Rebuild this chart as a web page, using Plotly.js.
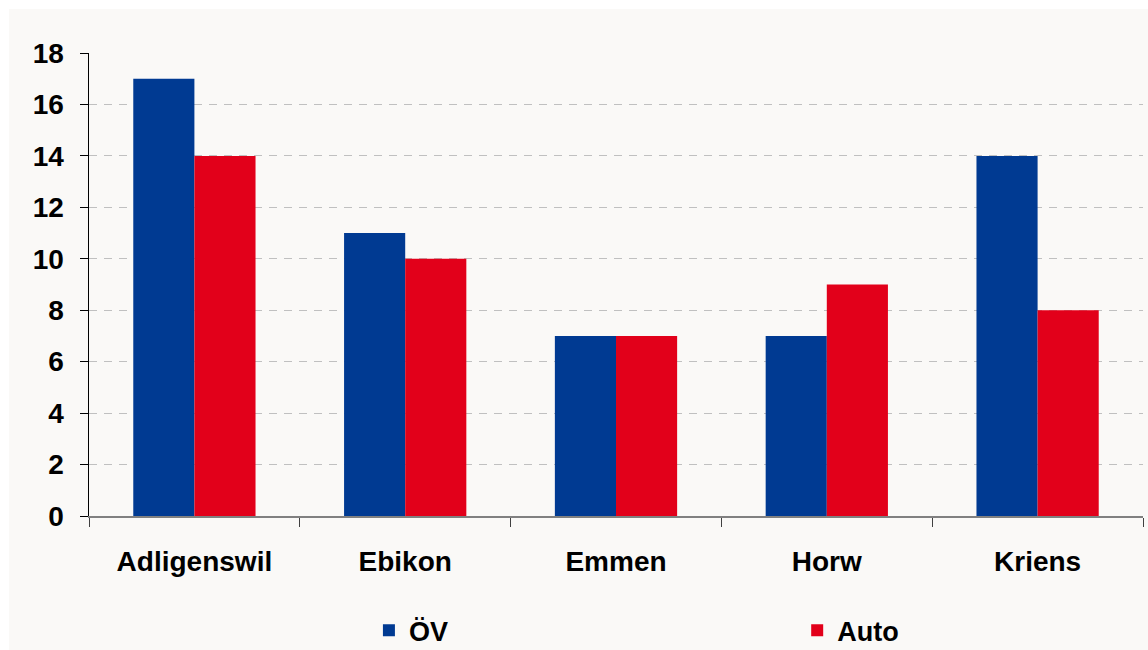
<!DOCTYPE html>
<html>
<head>
<meta charset="utf-8">
<script src="https://cdn.plot.ly/plotly-3.0.1.min.js"></script>
<style>
  html, body { margin: 0; padding: 0; background: #ffffff; }
  #chart { position: absolute; left: 9px; top: 9px; width: 1139px; height: 641px; }
</style>
</head>
<body>
<div id="chart"></div>
<script>
const categories = ["Adligenswil", "Ebikon", "Emmen", "Horw", "Kriens"];
const ovValues = [17, 11, 7, 7, 14];
const autoValues = [14, 10, 7, 9, 8];
const seriesNames = ["ÖV", "Auto"];
const yTicks = [0, 2, 4, 6, 8, 10, 12, 14, 16, 18];

const FONT = "Arial, 'Liberation Sans', sans-serif";
const BG = "#faf9f7";

const traces = [
  { type: "bar", name: seriesNames[0], x: categories, y: ovValues, legend: "legend",
    marker: { color: "#003a92", line: { width: 0 } }, hoverinfo: "skip" },
  { type: "bar", name: seriesNames[1], x: categories, y: autoValues, legend: "legend2",
    marker: { color: "#e2001a", line: { width: 0 } }, hoverinfo: "skip" }
];

const legendFont = { family: FONT, size: 27, color: "#000000", weight: "bold" };

const layout = {
  width: 1139, height: 641,
  paper_bgcolor: BG, plot_bgcolor: BG,
  margin: { l: 80, r: 5, t: 44, b: 134, autoexpand: false },
  barmode: "group", bargap: 0.42, bargroupgap: 0,
  font: { family: FONT, size: 28, color: "#000000" },
  xaxis: {
    type: "category",
    tickson: "boundaries",
    ticks: "outside", ticklen: 9, tickcolor: "#404040", tickwidth: 1,
    showline: true, linecolor: "#808080", linewidth: 1.5,
    showgrid: false, zeroline: false,
    ticklabelstandoff: 20,
    tickfont: { family: FONT, size: 28, color: "#000000", weight: "bold" }
  },
  yaxis: {
    range: [0, 18],
    tickvals: yTicks,
    ticktext: yTicks.map(String),
    ticks: "outside", ticklen: 8, tickcolor: "#000000", tickwidth: 1,
    showline: true, linecolor: "#000000", linewidth: 1.5,
    showgrid: true, gridcolor: "#c0c0c0", gridwidth: 1, griddash: "8px,7px",
    zeroline: false,
    ticklabelstandoff: 10,
    tickfont: { family: FONT, size: 28, color: "#000000", weight: "bold" }
  },
  showlegend: true,
  legend: {
    orientation: "h",
    xref: "container", yref: "container",
    x: 0.316, xanchor: "left",
    y: 0.03, yanchor: "middle",
    bgcolor: "rgba(0,0,0,0)",
    font: legendFont
  },
  legend2: {
    orientation: "h",
    xref: "container", yref: "container",
    x: 0.692, xanchor: "left",
    y: 0.03, yanchor: "middle",
    bgcolor: "rgba(0,0,0,0)",
    font: legendFont
  }
};

Plotly.newPlot("chart", traces, layout, { staticPlot: true, displayModeBar: false });
</script>
</body>
</html>
